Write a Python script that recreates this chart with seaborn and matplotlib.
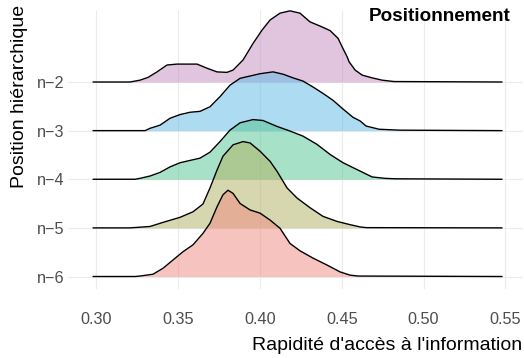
import numpy as np
import pandas as pd
import matplotlib
matplotlib.use("Agg")
import matplotlib.pyplot as plt
import seaborn as sns

# Ridge categories (bottom to top) and their fills
groups = ["n−6", "n−5", "n−4", "n−3", "n−2"]
fill_colors = ["#F18981", "#B1B161", "#51C591", "#5DB9E5", "#C58DC1"]

# Estimated density curves of "Rapidité d'accès à l'information" per level
x_n6 = [0.2980, 0.3237, 0.3267, 0.3347, 0.3408, 0.3469, 0.3530, 0.3591, 0.3652,
        0.3695, 0.3738, 0.3774, 0.3805, 0.3836, 0.3879, 0.3940, 0.4001, 0.4062,
        0.4123, 0.4184, 0.4245, 0.4325, 0.4410, 0.4490, 0.4551, 0.4600, 0.5480]
d_n6 = [0, 0, 0.1, 0.5, 1.8, 3.6, 5.4, 6.9, 9.4,
        11.6, 15.2, 17.8, 18.8, 18.1, 15.9, 14.5, 13.8, 12.3,
        10.5, 7.2, 5.6, 4.0, 2.5, 1.0, 0.3, 0.1, 0]

x_n5 = [0.2980, 0.3206, 0.3328, 0.3408, 0.3512, 0.3591, 0.3652, 0.3695, 0.3738,
        0.3774, 0.3836, 0.3897, 0.3940, 0.4001, 0.4062, 0.4105, 0.4166, 0.4227,
        0.4306, 0.4386, 0.4472, 0.4551, 0.4613, 0.4650, 0.5480]
d_n5 = [0, 0, 0.3, 1.2, 2.3, 3.5, 5.2, 8.7, 12.6,
        15.6, 18.1, 18.8, 18.5, 16.7, 14.5, 12.3, 8.7, 6.5,
        4.4, 2.5, 1.4, 0.7, 0.2, 0.05, 0]

x_n4 = [0.2980, 0.3237, 0.3267, 0.3328, 0.3390, 0.3451, 0.3512, 0.3573, 0.3634,
        0.3695, 0.3756, 0.3817, 0.3879, 0.3958, 0.4019, 0.4105, 0.4184, 0.4263,
        0.4349, 0.4429, 0.4508, 0.4594, 0.4686, 0.4765, 0.4826, 0.5480]
d_n4 = [0, 0, 0.2, 0.7, 1.5, 2.7, 3.6, 4.1, 4.6,
        5.9, 8.2, 10.7, 12.3, 13.0, 12.8, 11.5, 10.5, 9.4,
        7.6, 5.4, 3.6, 2.1, 0.5, 0.2, 0.1, 0]

x_n3 = [0.2980, 0.3298, 0.3328, 0.3390, 0.3451, 0.3512, 0.3573, 0.3634, 0.3695,
        0.3756, 0.3817, 0.3879, 0.3940, 0.4001, 0.4080, 0.4141, 0.4202, 0.4263,
        0.4325, 0.4386, 0.4447, 0.4508, 0.4569, 0.4613, 0.4649, 0.4729, 0.4856, 0.5480]
d_n3 = [0, 0, 0.5, 1.2, 2.7, 3.5, 4.0, 4.2, 5.2,
        7.4, 9.9, 11.4, 11.9, 12.4, 12.8, 12.3, 11.5, 10.8,
        9.5, 8.1, 6.6, 4.7, 2.9, 2.1, 1.0, 0.3, 0.1, 0]

x_n2 = [0.2980, 0.3206, 0.3267, 0.3316, 0.3371, 0.3432, 0.3493, 0.3616, 0.3677,
        0.3738, 0.3799, 0.3836, 0.3897, 0.3958, 0.4013, 0.4062, 0.4123, 0.4184,
        0.4245, 0.4306, 0.4367, 0.4429, 0.4478, 0.4502, 0.4533, 0.4545, 0.4582,
        0.4625, 0.4686, 0.4747, 0.4820, 0.5480]
d_n2 = [0, 0, 0.4, 1.0, 2.2, 3.7, 3.9, 3.9, 3.0,
        2.2, 2.1, 2.6, 4.8, 8.4, 11.3, 13.5, 15.0, 15.5,
        15.0, 13.1, 12.2, 11.2, 9.5, 7.7, 5.5, 4.4, 2.6,
        1.5, 0.9, 0.4, 0.1, 0]

x_ticks = [0.30, 0.35, 0.40, 0.45, 0.50, 0.55]

curves = {"n−6": (x_n6, d_n6), "n−5": (x_n5, d_n5), "n−4": (x_n4, d_n4),
          "n−3": (x_n3, d_n3), "n−2": (x_n2, d_n2)}

# Ridge height per density unit, relative to the spacing between levels
ridge_scale = 0.0944

frames = []
for pos, g in enumerate(groups, start=1):
    xs, ds = curves[g]
    frames.append(pd.DataFrame({"group": g, "pos": pos, "x": xs, "density": ds}))
df = pd.concat(frames, ignore_index=True)
df["ridge"] = df["pos"] + df["density"] * ridge_scale

sns.set_theme(style="white")
plt.rcParams["font.family"] = ["Liberation Sans", "DejaVu Sans"]

fig = plt.figure(figsize=(5.24, 3.58), dpi=100)
ax = fig.add_axes([68 / 524, 1 - 289 / 358, (523 - 68) / 524, (289 - 10) / 358])

# Top ridge first so that lower ridges overlap it
for k in range(len(groups) - 1, -1, -1):
    g = groups[k]
    sub = df[df["group"] == g]
    base = k + 1
    ax.fill_between(sub["x"], base, sub["ridge"], color=fill_colors[k],
                    alpha=0.5, lw=0, zorder=3 + 2 * (4 - k))
    sns.lineplot(data=sub, x="x", y="ridge", color="black", lw=1.0,
                 estimator=None, sort=False, ax=ax, zorder=4 + 2 * (4 - k))

ax.set_xlim(0.2827, 0.5608)
ax.set_ylim(0.743, 6.481)
ax.set_xticks(x_ticks)
ax.set_xticklabels([f"{v:.2f}" for v in x_ticks])
ax.set_yticks(range(1, len(groups) + 1))
ax.set_yticklabels(groups)
ax.set_xlabel("")
ax.set_ylabel("")
ax.grid(True, color="#EBEBEB", lw=0.8)
ax.set_axisbelow(True)
sns.despine(ax=ax, left=True, bottom=True)
ax.tick_params(axis="x", length=0, pad=16.5, labelsize=11.7, labelcolor="#4D4D4D")
ax.tick_params(axis="y", length=0, pad=2.5, labelsize=11.7, labelcolor="#4D4D4D")

fig.text(522 / 524, 1 - 350 / 358, "Rapidité d'accès à l'information",
         ha="right", va="baseline", fontsize=14, color="black")
fig.text(20 / 524, 1 - 5 / 358, "Position hiérarchique", rotation=90,
         ha="center", va="top", fontsize=14, color="black")
fig.text(510 / 524, 1 - 21 / 358, "Positionnement", ha="right", va="baseline",
         fontsize=13.6, fontweight="bold", color="black")

fig.savefig("out.png", dpi=100)
